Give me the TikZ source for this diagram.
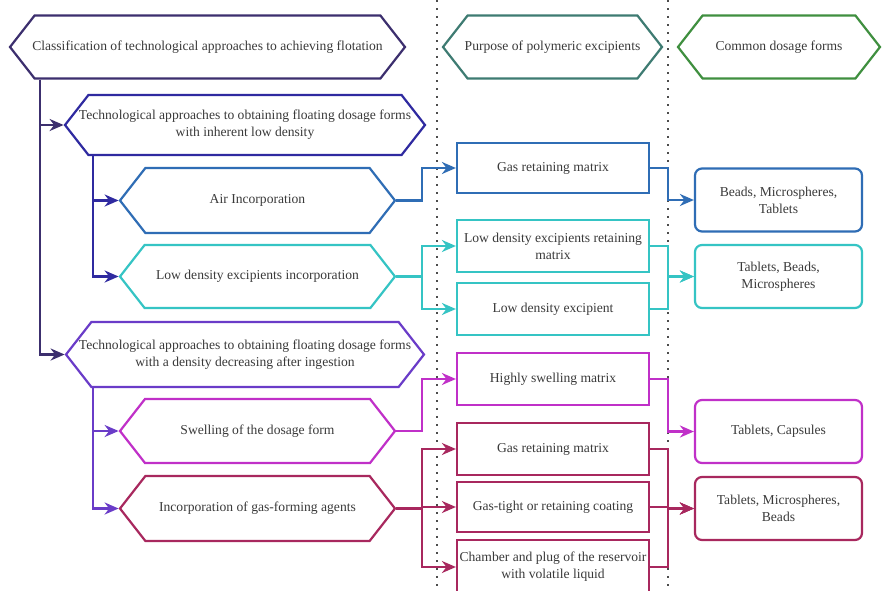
\documentclass[tikz,border=0pt]{standalone}
\usepackage{fontspec}
\setmainfont{Liberation Serif}
\usetikzlibrary{arrows.meta, shapes.symbols, positioning}
\definecolor{cTitle}{HTML}{3C2F6E}
\definecolor{cPurp}{HTML}{3E7B72}
\definecolor{cForm}{HTML}{3F8F3F}
\definecolor{cTechA}{HTML}{2F2AA0}
\definecolor{cAir}{HTML}{2F6DB5}
\definecolor{cLow}{HTML}{35C4C4}
\definecolor{cTechB}{HTML}{6A3CC8}
\definecolor{cSwell}{HTML}{C030C8}
\definecolor{cGas}{HTML}{A8285E}
\definecolor{txt}{HTML}{3A3A3A}
\tikzset{
    hexa/.style={signal, signal to=west and east, signal pointer angle=104, draw, line width=2.2pt, fill=white, align=center, text=txt, inner xsep=-20pt, inner ysep=1pt}, % 六边形标题框
    midbox/.style={rectangle, draw, line width=2.2pt, fill=white, align=center, text=txt, minimum width=192pt, minimum height=52pt, inner xsep=-6pt, inner ysep=1pt}, % 中间一列的矩形框
    formbox/.style={rectangle, rounded corners=7pt, draw, line width=2.2pt, fill=white, align=center, text=txt, minimum width=167pt, minimum height=63pt}, % 右侧剂型框
    link/.style={line width=2.2pt, -{Stealth[length=14pt, width=12pt]}}, % 连线
    sep line/.style={line width=2pt, dash pattern=on 2pt off 6pt, black!70} % 竖直分隔线
}

\begin{document}
\begin{tikzpicture}[x=1pt, y=-1pt, font=\fontsize{13.6}{17}\selectfont]
    \def\subx{257.5} \def\midx{553} \def\formx{778.5}
    \clip (0,0) rectangle (889,590);
    \fill[white] (0,0) rectangle (889,590);

    \draw[sep line] (437,0) -- (437,590);
    \draw[sep line] (668,0) -- (668,590);

    % 表头
    \node[hexa, draw=cTitle, minimum width=395pt, minimum height=63pt] (title) at (207.5,47) {Classification of technological approaches to achieving flotation};
    \node[hexa, draw=cPurp, minimum width=219pt, minimum height=63pt] (purpose) at (552.5,47) {Purpose of polymeric excipients};
    \node[hexa, draw=cForm, minimum width=202pt, minimum height=63pt] (common) at (779,47) {Common dosage forms};

    % 左列
    \node[hexa, draw=cTechA, minimum width=360pt, minimum height=60pt] (techA) at (245,125) {Technological approaches to obtaining floating dosage forms\\with inherent low density};
    \node[hexa, draw=cAir, minimum width=275pt, minimum height=65pt] (air) at (\subx,200.5) {Air Incorporation};
    \node[hexa, draw=cLow, minimum width=275pt, minimum height=63pt] (low) at (\subx,276.5) {Low density excipients incorporation};
    \node[hexa, draw=cTechB, minimum width=358pt, minimum height=65pt] (techB) at (245,354.5) {Technological approaches to obtaining floating dosage forms\\with a density decreasing after ingestion};
    \node[hexa, draw=cSwell, minimum width=275pt, minimum height=64pt] (swell) at (\subx,431) {Swelling of the dosage form};
    \node[hexa, draw=cGas, minimum width=275pt, minimum height=65pt] (gasform) at (\subx,508.5) {Incorporation of gas-forming agents};

    % 中间列
    \node[midbox, draw=cAir, minimum height=50pt] (gasA) at (\midx,168) {Gas retaining matrix};
    \node[midbox, draw=cLow] (ldeA) at (\midx,246) {Low density excipients retaining\\matrix};
    \node[midbox, draw=cLow] (ldeB) at (\midx,309) {Low density excipient};
    \node[midbox, draw=cSwell] (hsm) at (\midx,379) {Highly swelling matrix};
    \node[midbox, draw=cGas] (gasB) at (\midx,449) {Gas retaining matrix};
    \node[midbox, draw=cGas, minimum height=50pt] (tight) at (\midx,507) {Gas-tight or retaining coating};
    \node[midbox, draw=cGas, minimum height=54pt] (chamber) at (\midx,567) {Chamber and plug of the reservoir\\with volatile liquid};

    % 右列
    \node[formbox, draw=cAir] (bmt) at (\formx,200) {Beads, Microspheres,\\Tablets};
    \node[formbox, draw=cLow] (tbm) at (\formx,276.5) {Tablets, Beads,\\Microspheres};
    \node[formbox, draw=cSwell] (tc) at (\formx,431.5) {Tablets, Capsules};
    \node[formbox, draw=cGas] (tmb) at (\formx,508.5) {Tablets, Microspheres,\\Beads};

    \coordinate (kA) at (40,0);
    \coordinate (kB) at (93,0);
    \coordinate (jL) at (422,0);
    \coordinate (jR) at (668,0);

    \draw[link, cTitle] (title.south -| kA) |- (techA.west);
    \draw[link, cTitle] (title.south -| kA) |- (techB.west);
    \draw[link, cTechA] (techA.south -| kB) |- (air.west);
    \draw[link, cTechA] (techA.south -| kB) |- (low.west);
    \draw[link, cTechB] (techB.south -| kB) |- (swell.west);
    \draw[link, cTechB] (techB.south -| kB) |- (gasform.west);

    \draw[link, cAir] (air.east) -- (air.east -| jL) |- (gasA.west);
    \foreach \t in {ldeA, ldeB} {\draw[link, cLow] (low.east) -- (low.east -| jL) |- (\t.west);}
    \draw[link, cSwell] (swell.east) -- (swell.east -| jL) |- (hsm.west);
    \foreach \t in {gasB, tight, chamber} {\draw[link, cGas] (gasform.east) -- (gasform.east -| jL) |- (\t.west);}

    \draw[link, cAir] (gasA.east) -- (gasA.east -| jR) |- (bmt.west);
    \foreach \s in {ldeA, ldeB} {\draw[link, cLow] (\s.east) -- (\s.east -| jR) |- (tbm.west);}
    \draw[link, cSwell] (hsm.east) -- (hsm.east -| jR) |- (tc.west);
    \foreach \s in {gasB, tight, chamber} {\draw[link, cGas] (\s.east) -- (\s.east -| jR) |- (tmb.west);}
\end{tikzpicture}
\end{document}
